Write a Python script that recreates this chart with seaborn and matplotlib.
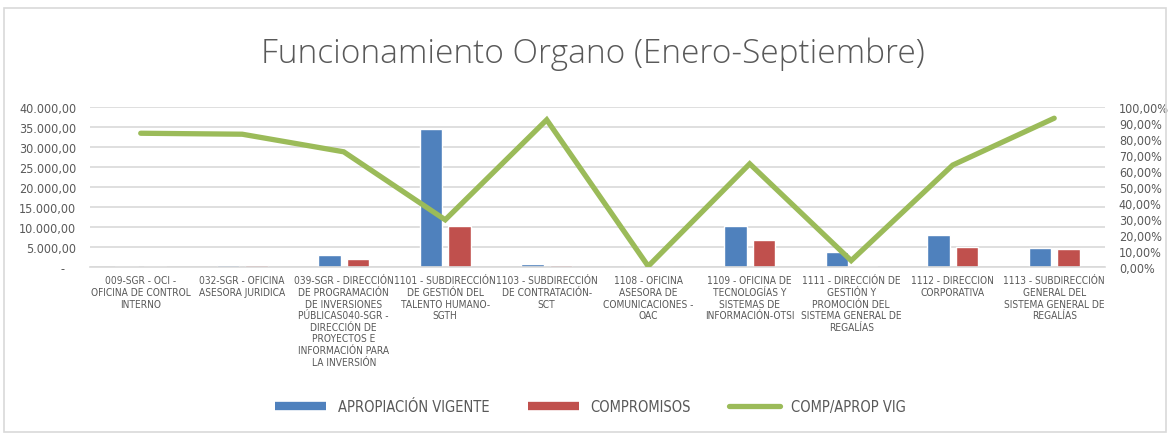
import numpy as np
import pandas as pd
import matplotlib
matplotlib.use('Agg')
import matplotlib.pyplot as plt
import matplotlib.ticker as mticker
from matplotlib.lines import Line2D
from matplotlib.patches import Rectangle
import seaborn as sns

# data
dependencias = [
    '009-SGR - OCI -\nOFICINA DE CONTROL\nINTERNO',
    '032-SGR - OFICINA\nASESORA JURIDICA',
    '039-SGR - DIRECCIÓN\nDE PROGRAMACIÓN\nDE INVERSIONES\nPÚBLICAS040-SGR -\nDIRECCIÓN DE\nPROYECTOS E\nINFORMACIÓN PARA\nLA INVERSIÓN',
    '1101 - SUBDIRECCIÓN\nDE GESTIÓN DEL\nTALENTO HUMANO-\nSGTH',
    '1103 - SUBDIRECCIÓN\nDE CONTRATACIÓN-\nSCT',
    '1108 - OFICINA\nASESORA DE\nCOMUNICACIONES -\nOAC',
    '1109 - OFICINA DE\nTECNOLOGÍAS Y\nSISTEMAS DE\nINFORMACIÓN-OTSI',
    '1111 - DIRECCIÓN DE\nGESTIÓN Y\nPROMOCIÓN DEL\nSISTEMA GENERAL DE\nREGALÍAS',
    '1112 - DIRECCION\nCORPORATIVA',
    '1113 - SUBDIRECCIÓN\nGENERAL DEL\nSISTEMA GENERAL DE\nREGALÍAS',
]
apropiacion = [180, 580, 2900, 34530, 660, 0, 10290, 3820, 7970, 4820]
compromisos = [150, 400, 2070, 10200, 580, 0, 6640, 150, 5060, 4480]
comp_aprop = [0.836, 0.830, 0.720, 0.295, 0.920, 0.005, 0.645, 0.040, 0.637, 0.930]

series = ['APROPIACIÓN VIGENTE', 'COMPROMISOS']
colores = ['#4F81BD', '#C0504D']
verde = '#9BBB59'
gris = '#595959'

df = pd.DataFrame({
    'dep': dependencias * 2,
    'valor': apropiacion + compromisos,
    'serie': [series[0]] * len(dependencias) + [series[1]] * len(dependencias),
})

sns.set_style('white')
plt.rcParams['font.family'] = ['Liberation Sans Narrow', 'DejaVu Sans']
plt.rcParams['font.stretch'] = 'condensed'

fig = plt.figure(figsize=(11.7, 4.35), dpi=100)
ax = fig.add_axes([0.0769, 0.3839, 0.8675, 0.3678])

sns.barplot(data=df, x='dep', y='valor', hue='serie', palette=colores, saturation=1,
            width=0.56, gap=0.21, legend=False, ax=ax, zorder=2)

ax2 = ax.twinx()
sns.lineplot(x=np.arange(len(dependencias)), y=comp_aprop, color=verde,
             linewidth=3.8, ax=ax2, legend=False)
ax2.lines[0].set_solid_capstyle('round')
ax2.lines[0].set_solid_joinstyle('miter')

# ejes
ax.set_xlim(-0.5, len(dependencias) - 0.5)
ax.set_ylim(0, 40000)
ax.yaxis.set_major_locator(mticker.MultipleLocator(5000))
ax2.set_ylim(0, 1)
ax2.yaxis.set_major_locator(mticker.MultipleLocator(0.1))

def fmt_pesos(v, pos):
    if v == 0:
        return '-   '
    return f'{v:,.2f}'.replace(',', 'X').replace('.', ',').replace('X', '.')

def fmt_pct(v, pos):
    return f'{v * 100:.2f}%'.replace('.', ',')

ax.yaxis.set_major_formatter(mticker.FuncFormatter(fmt_pesos))
ax2.yaxis.set_major_formatter(mticker.FuncFormatter(fmt_pct))

ax.grid(axis='y', color='#D9D9D9', linewidth=1.2, zorder=0)
ax.set_axisbelow(True)
for a in (ax, ax2):
    for s in a.spines.values():
        s.set_visible(False)
ax.spines['bottom'].set_visible(True)
ax.spines['bottom'].set_color('#D9D9D9')
ax.spines['bottom'].set_linewidth(1.2)

ax.tick_params(axis='y', length=0, pad=10, labelsize=9, labelcolor=gris)
ax2.tick_params(axis='y', length=0, pad=10, labelsize=9, labelcolor=gris)
ax.tick_params(axis='x', length=0, pad=6, labelsize=7.3, labelcolor=gris)
for t in ax.get_xticklabels():
    t.set_linespacing(1.2)
    t.set_verticalalignment('top')
ax.set_xlabel('')
ax.set_ylabel('')
ax2.set_ylabel('')

fig.text(0.507, 0.876, 'Funcionamiento Organo (Enero-Septiembre)', ha='center', va='center',
         fontsize=24, color=gris, family=['Open Sans', 'DejaVu Sans'],
         fontweight='light', fontstretch='normal')

handles = [
    Line2D([], [], color=colores[0], linewidth=6, solid_capstyle='butt'),
    Line2D([], [], color=colores[1], linewidth=6, solid_capstyle='butt'),
    Line2D([], [], color=verde, linewidth=3.8, solid_capstyle='round'),
]
fig.legend(handles, series + ['COMP/APROP VIG'], loc='center', ncol=3,
           bbox_to_anchor=(0.505, 0.064), frameon=False, fontsize=10.5,
           handlelength=3.5, handletextpad=0.8, columnspacing=2.6,
           labelcolor=gris)

fig.patches.append(Rectangle((0.003, 0.005), 0.994, 0.975, transform=fig.transFigure,
                             fill=False, edgecolor='#D9D9D9', linewidth=1.2))

fig.savefig('out.png', dpi=100)
